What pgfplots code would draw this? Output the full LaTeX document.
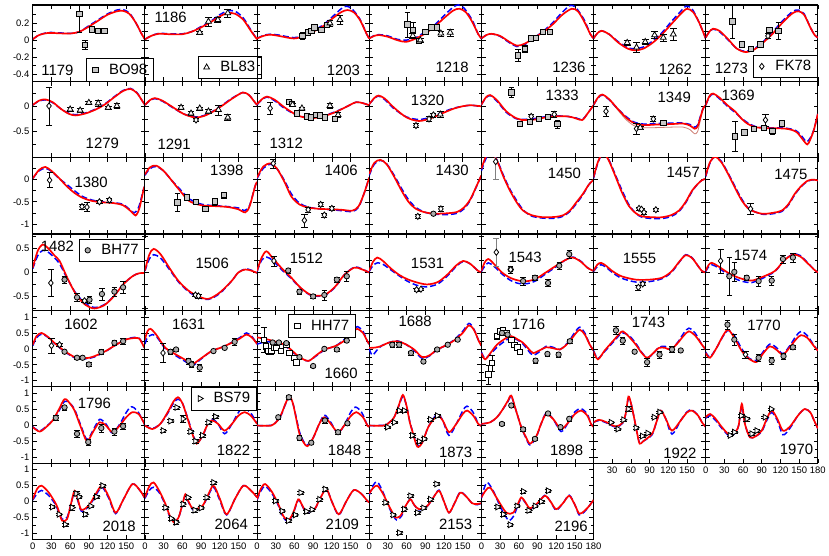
\documentclass[border=0pt]{standalone}
\usepackage{fontspec}
\setmainfont{Liberation Sans}
\usepackage{pgfplots}
\pgfplotsset{compat=1.18}
\usepgfplotslibrary{groupplots}

\pgfplotsset{
  redc/.style={draw=red, line width=1.7pt, smooth, no markers, forget plot},
  bluec/.style={draw=blue, line width=1.5pt, dash pattern=on 6pt off 3pt, smooth, no markers, forget plot},
  thinc/.style={draw={rgb,255:red,205;green,125;blue,115}, line width=0.8pt, smooth, no markers, forget plot},
  dat/.style={only marks, black, mark size=2.7pt,
    error bars/y dir=both, error bars/y explicit,
    error bars/error bar style={line width=0.6pt, black}},
  bo/.style={dat, mark=square*, mark options={fill=gray!45, draw=black, line width=0.8pt}},
  bl/.style={dat, mark size=3.4pt, mark=triangle*, mark options={fill=white, draw=black, line width=0.8pt}},
  fk/.style={dat, mark size=3.1pt, mark=diamond*, mark options={fill=white, draw=black, line width=0.8pt}},
  bh/.style={dat, mark=*, mark options={fill=gray!65, draw=black, line width=0.8pt}},
  hh/.style={dat, mark=square*, mark options={fill=white, draw=black, line width=0.8pt}},
  bs/.style={dat, mark size=3.4pt, mark=triangle*, mark options={fill=white, draw=black, line width=0.8pt, rotate=-90}},
  rA/.style={ymin=-0.485, ymax=0.415, ytick={-0.4,-0.2,0,0.2}, minor ytick={-0.3,-0.1,0.1,0.3}},
  rB/.style={ymin=-1.01, ymax=0.49, ytick={-0.5,0}, minor ytick={-0.75,-0.25,0.25}},
  rC/.style={ymin=-1.23, ymax=0.5, ytick={-1,-0.5,0}, minor ytick={-0.75,-0.25,0.25}},
  rD/.style={ymin=-0.79, ymax=0.8, ytick={-0.5,0,0.5}, minor ytick={-0.75,-0.25,0.25,0.75}},
  rE/.style={ymin=-1.19, ymax=1.21, ytick={-1,-0.5,0,0.5,1}, minor ytick={-0.75,-0.25,0.25,0.75}},
  bot/.style={xticklabels={0,30,60,90,120,150}},
}
\tikzset{plab/.style={font=\fontsize{15}{15}\selectfont}}
\newcommand{\plab}[3]{\node[plab] at (rel axis cs:#1,#2) {#3};}

\begin{document}
\begin{tikzpicture}
\begin{groupplot}[
  group style={group size=7 by 7, horizontal sep=0pt, vertical sep=0pt},
  scale only axis, width=112.9pt, height=76.86pt,
  xmin=0, xmax=180, xtick={0,30,...,180},
  xticklabels={}, yticklabels={},
  axis line style={line width=1.1pt},
  tick style={line width=0.6pt, black},
  tick label style={font=\fontsize{9.5}{10}\selectfont},
  legend style={draw=black, fill=white, line width=0.8pt, font=\fontsize{15}{15}\selectfont, inner xsep=4pt, inner ysep=3.5pt},
  legend image code/.code={\draw[#1] plot coordinates {(0.15cm,0cm)}; \path (0cm,0cm) (0.55cm,0cm);},
]
% ---------------- row 1 ----------------
\nextgroupplot[rA, yticklabels={-0.4,-0.2,0,0.2}, legend style={at={(0.478,0.30)}, anchor=north west}]
\addplot[bluec] coordinates {(0,0.01)(10,0.06)(25,0.09)(45,0.085)(62,0.08)(75,0.1)(90,0.17)(105,0.24)(120,0.31)(135,0.355)(145,0.36)(155,0.32)(165,0.21)(175,0.07)(180,0.01)};
\addplot[redc] coordinates {(0,0.01)(10,0.06)(25,0.085)(45,0.08)(62,0.08)(75,0.1)(90,0.16)(105,0.23)(120,0.3)(135,0.34)(145,0.345)(155,0.31)(165,0.21)(175,0.07)(180,0.01)};
\addplot[bo] coordinates {(74.7,0.31)+-(0,0.22) (84,-0.054)+-(0,0.05) (95,0.127)+-(0,0.03) (105,0.108)+-(0,0.02) (115,0.108)+-(0,0.02)};
\addlegendentry{BO98}
\plab{0.22}{0.14}{1179}
\nextgroupplot[rA, legend style={at={(0.47,0.337)}, anchor=north west}]
\addplot[bluec] coordinates {(0,0.01)(10,0.05)(22,0.08)(40,0.075)(60,0.075)(75,0.1)(90,0.16)(105,0.22)(120,0.3)(133,0.345)(145,0.34)(158,0.26)(170,0.12)(180,0.01)};
\addplot[redc] coordinates {(0,0.01)(10,0.05)(22,0.075)(40,0.07)(60,0.07)(75,0.1)(90,0.15)(105,0.21)(120,0.28)(133,0.32)(145,0.31)(158,0.24)(170,0.11)(180,0.01)};
\addplot[bl] coordinates {(88,0.09)+-(0,0.02) (102,0.22)+-(0,0.05) (117,0.24)+-(0,0.03) (133,0.32)+-(0,0.05)};
\addlegendentry{BL83}
\plab{0.23}{0.84}{1186}
\nextgroupplot[rA]
\addplot[bluec] coordinates {(0,0.02)(10,0.055)(21,0.07)(35,0.06)(59,0.03)(75,0.06)(90,0.11)(106,0.18)(120,0.27)(135,0.37)(143,0.4)(152,0.37)(165,0.25)(176,0.07)(180,0.02)};
\addplot[redc] coordinates {(0,0.02)(10,0.05)(21,0.065)(35,0.05)(59,0.02)(75,0.05)(90,0.1)(106,0.165)(120,0.25)(135,0.33)(145,0.355)(155,0.33)(165,0.24)(176,0.07)(180,0.02)};
\addplot[bo] coordinates {(73,0.05)+-(0,0.04) (82,0.09)+-(0,0.03) (87,0.11)+-(0,0.02) (92,0.15)+-(0,0.02) (103,0.12)+-(0,0.02) (112,0.18)+-(0,0.03)};
\addplot[bl] coordinates {(117,0.2)+-(0,0.03) (133,0.24)+-(0,0.05)};
\plab{0.77}{0.14}{1203}
\nextgroupplot[rA]
\addplot[bluec] coordinates {(0,0.02)(8,0.055)(16,0.065)(30,0.05)(45,0.01)(59,0.0)(75,0.03)(90,0.1)(105,0.18)(120,0.29)(135,0.39)(143,0.415)(152,0.38)(165,0.24)(175,0.07)(180,0.02)};
\addplot[redc] coordinates {(0,0.02)(8,0.05)(16,0.06)(30,0.04)(45,0.0)(59,-0.02)(75,0.02)(90,0.08)(105,0.16)(120,0.26)(135,0.35)(145,0.37)(155,0.33)(165,0.22)(175,0.07)(180,0.02)};
\addplot[bo] coordinates {(61,0.185)+-(0,0.15) (70,0.12)+-(0,0.09) (80,-0.01)+-(0,0.02) (90,0.1)+-(0,0.02) (100,0.15)+-(0,0.02) (109,0.15)+-(0,0.02)};
\addplot[bl] coordinates {(70,0.05)+-(0,0.03) (82,0.0)+-(0,0.02) (115,0.08)+-(0,0.03) (130,0.09)+-(0,0.04)};
\plab{0.74}{0.18}{1218}
\nextgroupplot[rA]
\addplot[bluec] coordinates {(0,0.02)(8,0.06)(16,0.075)(30,0.045)(45,-0.03)(57,-0.075)(70,-0.05)(85,0.03)(100,0.11)(115,0.21)(130,0.33)(143,0.41)(152,0.38)(165,0.24)(175,0.07)(180,0.02)};
\addplot[redc] coordinates {(0,0.02)(8,0.06)(16,0.075)(30,0.05)(45,-0.02)(57,-0.065)(70,-0.04)(85,0.03)(100,0.1)(115,0.19)(130,0.3)(145,0.37)(155,0.34)(165,0.22)(175,0.07)(180,0.02)};
\addplot[bo] coordinates {(59,-0.18)+-(0,0.07) (70,-0.1)+-(0,0.04) (79,0.02)+-(0,0.02) (88,0.03)+-(0,0.02) (99,0.1)+-(0,0.02) (110,0.1)+-(0,0.02)};
\plab{0.78}{0.18}{1236}
\nextgroupplot[rA]
\addplot[bluec] coordinates {(0,0.02)(6,0.08)(13,0.11)(25,0.07)(40,-0.02)(55,-0.09)(67,-0.1)(80,-0.08)(95,-0.01)(110,0.09)(125,0.22)(140,0.34)(148,0.4)(158,0.37)(170,0.2)(180,0.02)};
\addplot[redc] coordinates {(0,0.02)(6,0.08)(13,0.11)(25,0.07)(40,-0.03)(55,-0.1)(67,-0.12)(80,-0.1)(95,-0.03)(110,0.07)(125,0.19)(140,0.31)(150,0.37)(160,0.33)(170,0.2)(180,0.02)};
\addplot[bl] coordinates {(54,-0.03)+-(0,0.03) (69,-0.085)+-(0,0.06) (83,-0.02)+-(0,0.03) (98,0.06)+-(0,0.04) (112,0.03)+-(0,0.04) (128,0.07)+-(0,0.07)};
\plab{0.73}{0.155}{1262}
\nextgroupplot[rA, legend style={at={(0.42,0.35)}, anchor=north west}]
\addplot[bluec] coordinates {(0,0.03)(6,0.1)(12,0.13)(22,0.1)(35,0.01)(50,-0.1)(64,-0.13)(78,-0.1)(92,-0.02)(108,0.1)(125,0.24)(140,0.34)(149,0.355)(158,0.31)(168,0.15)(175,0.06)(180,0.03)};
\addplot[redc] coordinates {(0,0.03)(6,0.1)(12,0.135)(22,0.11)(35,0.02)(50,-0.1)(64,-0.14)(78,-0.11)(92,-0.03)(108,0.08)(125,0.22)(140,0.32)(149,0.34)(158,0.3)(168,0.15)(175,0.06)(180,0.03)};
\addplot[bo, forget plot] coordinates {(43,0.22)+-(0,0.2) (58,-0.05)+-(0,0.03) (73,-0.1)+-(0,0.02) (88,-0.05)+-(0,0.02) (102,0.12)+-(0,0.03) (117,0.11)+-(0,0.1)};
\addplot[fk] coordinates {(100,0.05)+-(0,0.03)};
\addlegendentry{FK78}
\plab{0.23}{0.17}{1273}
% ---------------- row 2 ----------------
\nextgroupplot[rB, yticklabels={-0.5,0}]
\addplot[bluec] coordinates {(0,0.025)(10,0.1)(20,0.125)(32,0.07)(45,-0.05)(58,-0.14)(69,-0.165)(85,-0.13)(100,-0.06)(115,0.04)(130,0.18)(145,0.31)(157,0.35)(167,0.27)(175,0.12)(180,0.025)};
\addplot[redc] coordinates {(0,0.025)(10,0.11)(20,0.135)(32,0.08)(45,-0.05)(58,-0.15)(69,-0.18)(85,-0.14)(100,-0.07)(115,0.03)(130,0.17)(145,0.3)(157,0.34)(167,0.26)(175,0.12)(180,0.025)};
\addplot[fk] coordinates {(26,0.006)+-(0,0.37)};
\addplot[bl] coordinates {(60,-0.06)+-(0,0.04) (76,-0.08)+-(0,0.04) (90,0.07)+-(0,0.03) (105,0.06)+-(0,0.06) (121,-0.025)+-(0,0.03) (135,0.006)+-(0,0.05)};
\plab{0.62}{0.19}{1279}
\nextgroupplot[rB]
\addplot[bluec] coordinates {(0,0.025)(8,0.11)(16,0.15)(28,0.1)(45,-0.03)(62,-0.15)(80,-0.21)(95,-0.18)(110,-0.09)(125,0.03)(140,0.16)(157,0.27)(167,0.22)(175,0.1)(180,0.025)};
\addplot[redc] coordinates {(0,0.025)(8,0.12)(16,0.16)(28,0.11)(45,-0.02)(62,-0.15)(80,-0.22)(95,-0.19)(110,-0.1)(125,0.02)(140,0.15)(157,0.27)(167,0.22)(175,0.1)(180,0.025)};
\addplot[bl] coordinates {(58,-0.025)+-(0,0.04) (74,-0.14)+-(0,0.04) (88,-0.04)+-(0,0.03) (102,-0.1)+-(0,0.04) (118,-0.07)+-(0,0.1) (133,-0.22)+-(0,0.06)};
\addplot[fk] coordinates {(82,-0.27)+-(0,0.03)};
\plab{0.26}{0.18}{1291}
\nextgroupplot[rB]
\addplot[bluec] coordinates {(0,0.03)(8,0.13)(16,0.18)(28,0.11)(45,-0.05)(65,-0.18)(85,-0.22)(105,-0.19)(125,-0.11)(145,0.0)(159,0.08)(170,0.06)(180,0.02)};
\addplot[redc] coordinates {(0,0.04)(8,0.14)(16,0.19)(28,0.13)(45,-0.03)(65,-0.18)(85,-0.235)(105,-0.2)(125,-0.12)(145,0.0)(159,0.08)(170,0.06)(180,0.02)};
\addplot[fk] coordinates {(21,-0.04)+-(0,0.12)};
\addplot[bo] coordinates {(51,0.09)+-(0,0.05) (56,0.05)+-(0,0.03) (64,-0.14)+-(0,0.03) (80,-0.2)+-(0,0.03) (86,-0.22)+-(0,0.03) (95,-0.17)+-(0,0.03) (101,-0.18)+-(0,0.03) (109,-0.22)+-(0,0.03) (125,-0.25)+-(0,0.05)};
\addplot[bl] coordinates {(57,0.03)+-(0,0.03) (72,-0.04)+-(0,0.03) (117,0.01)+-(0,0.05) (130,-0.17)+-(0,0.05)};
\plab{0.26}{0.19}{1312}
\nextgroupplot[rB]
\addplot[bluec] coordinates {(0,0.04)(8,0.15)(15,0.2)(25,0.13)(40,-0.05)(60,-0.21)(80,-0.26)(100,-0.21)(117,-0.12)(135,-0.04)(150,0.0)(162,0.02)(172,0.01)(180,0.0)};
\addplot[redc] coordinates {(0,0.04)(8,0.16)(15,0.21)(25,0.15)(40,-0.03)(60,-0.22)(80,-0.29)(100,-0.23)(117,-0.14)(135,-0.05)(150,0.0)(162,0.02)(172,0.01)(180,0.0)};
\addplot[fk] coordinates {(75,-0.38)+-(0,0.04) (96,-0.25)+-(0,0.05) (103,-0.17)+-(0,0.04)};
\addplot[bl] coordinates {(114,-0.16)+-(0,0.06)};
\plab{0.52}{0.75}{1320}
\nextgroupplot[rB]
\addplot[bluec] coordinates {(0,0.03)(7,0.16)(14,0.21)(25,0.1)(40,-0.12)(55,-0.24)(65,-0.26)(86,-0.24)(112,-0.19)(139,-0.2)(152,-0.23)(162,-0.26)(170,-0.15)(180,0.02)};
\addplot[redc] coordinates {(0,0.03)(7,0.17)(14,0.22)(25,0.12)(40,-0.1)(55,-0.23)(65,-0.27)(86,-0.26)(112,-0.2)(139,-0.2)(152,-0.24)(162,-0.27)(170,-0.15)(180,0.02)};
\addplot[bo] coordinates {(48,0.27)+-(0,0.1) (62,-0.35)+-(0,0.02) (78,-0.31)+-(0,0.02) (92,-0.25)+-(0,0.02) (107,-0.21)+-(0,0.02) (122,-0.35)+-(0,0.08)};
\addplot[fk] coordinates {(80,-0.2)+-(0,0.05) (117,-0.16)+-(0,0.06)};
\plab{0.72}{0.82}{1333}
\nextgroupplot[rB]
\addplot[thinc] coordinates {(0,0.025)(7,0.17)(14,0.23)(25,0.13)(38,-0.06)(52,-0.26)(65,-0.38)(80,-0.42)(100,-0.42)(125,-0.41)(144,-0.41)(155,-0.46)(162,-0.54)(167,-0.5)(172,-0.25)(176,-0.06)(180,0.02)};
\addplot[bluec] coordinates {(0,0.025)(7,0.16)(14,0.22)(25,0.13)(38,-0.04)(52,-0.2)(65,-0.31)(80,-0.35)(100,-0.34)(125,-0.33)(144,-0.33)(155,-0.36)(162,-0.41)(167,-0.37)(172,-0.18)(176,-0.04)(180,0.02)};
\addplot[redc] coordinates {(0,0.025)(7,0.17)(14,0.23)(25,0.14)(38,-0.04)(52,-0.22)(65,-0.33)(80,-0.37)(100,-0.36)(125,-0.35)(144,-0.34)(155,-0.38)(162,-0.44)(167,-0.4)(172,-0.2)(176,-0.04)(180,0.02)};
\addplot[fk] coordinates {(20,-0.1)+-(0,0.1) (69,-0.44)+-(0,0.1) (96,-0.25)+-(0,0.05)};
\addplot[bl] coordinates {(75,-0.42)+-(0,0.03)};
\addplot[bo] coordinates {(112,-0.33)+-(0,0.03)};
\plab{0.72}{0.79}{1349}
\nextgroupplot[rB]
\addplot[bluec] coordinates {(0,0.02)(6,0.18)(12,0.24)(22,0.15)(35,0.0)(47,-0.12)(58,-0.24)(68,-0.33)(80,-0.4)(95,-0.42)(128,-0.43)(145,-0.48)(155,-0.6)(162,-0.7)(168,-0.62)(174,-0.45)(180,-0.15)};
\addplot[redc] coordinates {(0,0.02)(6,0.2)(12,0.25)(22,0.17)(35,0.02)(47,-0.1)(58,-0.25)(68,-0.35)(80,-0.41)(95,-0.43)(128,-0.44)(145,-0.5)(155,-0.64)(163,-0.75)(168,-0.65)(174,-0.45)(180,-0.15)};
\addplot[bo] coordinates {(47,-0.59)+-(0,0.3) (62,-0.51)+-(0,0.06) (77,-0.44)+-(0,0.03) (93,-0.43)+-(0,0.03) (107,-0.49)+-(0,0.05) (122,-0.34)+-(0,0.05)};
\addplot[fk] coordinates {(96,-0.27)+-(0,0.12)};
\plab{0.29}{0.82}{1369}
% ---------------- row 3 ----------------
\nextgroupplot[rC, yticklabels={-1,-0.5,0}]
\addplot[bluec] coordinates {(0,0.03)(10,0.2)(20,0.26)(30,0.19)(42,0.03)(54,-0.1)(67,-0.25)(80,-0.38)(95,-0.46)(110,-0.5)(130,-0.52)(145,-0.56)(156,-0.68)(163,-0.75)(170,-0.62)(178,-0.21)(180,-0.15)};
\addplot[redc] coordinates {(0,0.03)(10,0.22)(20,0.29)(30,0.2)(42,0.04)(54,-0.14)(67,-0.3)(80,-0.41)(95,-0.48)(110,-0.51)(130,-0.53)(145,-0.58)(158,-0.72)(165,-0.81)(171,-0.65)(178,-0.21)(180,-0.15)};
\addplot[fk] coordinates {(27,-0.01)+-(0,0.17) (79,-0.61)+-(0,0.05) (87,-0.62)+-(0,0.1) (107,-0.5)+-(0,0.04) (123,-0.46)+-(0,0.05)};
\plab{0.52}{0.68}{1380}
\nextgroupplot[rC]
\addplot[bluec] coordinates {(0,0.1)(8,0.25)(18,0.3)(30,0.2)(42,0.0)(54,-0.18)(70,-0.42)(85,-0.53)(97,-0.57)(115,-0.59)(134,-0.61)(150,-0.64)(160,-0.7)(168,-0.58)(177,-0.14)(180,-0.05)};
\addplot[redc] coordinates {(0,0.12)(8,0.28)(18,0.32)(30,0.2)(42,0.0)(54,-0.21)(70,-0.47)(85,-0.56)(97,-0.59)(115,-0.6)(134,-0.62)(150,-0.67)(161,-0.74)(168,-0.6)(177,-0.14)(180,-0.05)};
\addplot[bo] coordinates {(52,-0.51)+-(0,0.2) (67,-0.4)+-(0,0.06) (82,-0.5)+-(0,0.04) (97,-0.66)+-(0,0.04) (112,-0.49)+-(0,0.08) (127,-0.35)+-(0,0.07)};
\plab{0.73}{0.84}{1398}
\nextgroupplot[rC]
\addplot[bluec] coordinates {(0,0.03)(10,0.26)(22,0.35)(32,0.25)(44,-0.02)(55,-0.32)(68,-0.53)(82,-0.62)(100,-0.66)(120,-0.68)(135,-0.7)(153,-0.72)(163,-0.62)(172,-0.3)(180,0.05)};
\addplot[redc] coordinates {(0,0.05)(10,0.3)(22,0.37)(32,0.25)(44,-0.05)(55,-0.38)(68,-0.56)(82,-0.63)(100,-0.66)(120,-0.67)(135,-0.68)(153,-0.7)(163,-0.6)(172,-0.3)(180,0.05)};
\addplot[fk] coordinates {(26,0.37)+-(0,0.1) (76,-0.92)+-(0,0.15) (82,-0.68)+-(0,0.05) (102,-0.56)+-(0,0.04) (108,-0.8)+-(0,0.04) (120,-0.65)+-(0,0.04)};
\plab{0.75}{0.83}{1406}
\nextgroupplot[rC]
\addplot[bluec] coordinates {(0,0.1)(8,0.35)(18,0.44)(28,0.36)(40,0.1)(52,-0.2)(63,-0.45)(75,-0.63)(90,-0.74)(105,-0.78)(125,-0.79)(141,-0.76)(152,-0.66)(162,-0.47)(172,-0.16)(180,0.1)};
\addplot[redc] coordinates {(0,0.13)(8,0.38)(18,0.45)(28,0.35)(40,0.07)(52,-0.25)(63,-0.5)(75,-0.66)(90,-0.74)(105,-0.77)(125,-0.76)(141,-0.73)(152,-0.63)(162,-0.45)(172,-0.15)(180,0.1)};
\addplot[fk] coordinates {(78,-0.83)+-(0,0.04) (115,-0.66)+-(0,0.06)};
\addplot[bh] coordinates {(103,-0.77)+-(0,0.03)};
\plab{0.74}{0.83}{1430}
\nextgroupplot[rC]
\addplot[bluec] coordinates {(0,0.2)(8,0.5)(16,0.63)(26,0.42)(36,0.08)(46,-0.22)(57,-0.48)(67,-0.68)(80,-0.82)(99,-0.87)(120,-0.87)(132,-0.82)(142,-0.72)(152,-0.55)(163,-0.34)(172,-0.12)(180,0.0)};
\addplot[redc] coordinates {(0,0.25)(8,0.55)(16,0.65)(26,0.4)(36,0.05)(46,-0.25)(57,-0.52)(67,-0.7)(80,-0.8)(99,-0.85)(120,-0.84)(132,-0.8)(142,-0.7)(152,-0.52)(163,-0.32)(172,-0.12)(180,0.0)};
\addplot[fk, error bars/error bar style={gray}] coordinates {(23,0.41)+-(0,0.4)};
\plab{0.74}{0.80}{1450}
\nextgroupplot[rC]
\addplot[bluec] coordinates {(0,0.03)(7,0.38)(15,0.6)(24,0.47)(36,0.08)(46,-0.25)(57,-0.57)(68,-0.76)(78,-0.85)(95,-0.88)(110,-0.88)(125,-0.83)(137,-0.72)(148,-0.52)(158,-0.27)(167,-0.1)(174,-0.01)(180,0.02)};
\addplot[redc] coordinates {(0,0.05)(7,0.4)(15,0.6)(24,0.45)(36,0.05)(46,-0.3)(57,-0.6)(68,-0.76)(78,-0.83)(95,-0.85)(110,-0.85)(125,-0.8)(137,-0.7)(148,-0.5)(158,-0.25)(167,-0.1)(174,-0.01)(180,0.02)};
\addplot[fk] coordinates {(73,-0.65)+-(0,0.03) (77,-0.67)+-(0,0.03) (81,-0.74)+-(0,0.03) (100,-0.68)+-(0,0.03)};
\plab{0.80}{0.81}{1457}
\nextgroupplot[rC]
\addplot[bluec] coordinates {(0,0.07)(7,0.38)(15,0.52)(25,0.42)(36,0.15)(47,-0.15)(58,-0.44)(70,-0.66)(90,-0.78)(108,-0.77)(122,-0.72)(133,-0.57)(143,-0.34)(153,-0.16)(164,-0.03)(174,0.0)(180,-0.02)};
\addplot[redc] coordinates {(0,0.09)(7,0.4)(15,0.52)(25,0.4)(36,0.13)(47,-0.18)(58,-0.47)(70,-0.67)(90,-0.77)(108,-0.75)(122,-0.7)(133,-0.55)(143,-0.32)(153,-0.15)(164,-0.02)(174,0.0)(180,-0.02)};
\addplot[fk] coordinates {(72,-0.66)+-(0,0.13)};
\plab{0.76}{0.78}{1475}
% ---------------- row 4 ----------------
\nextgroupplot[rD, yticklabels={-0.5,0,0.5}, legend style={at={(0.41,0.94)}, anchor=north west}]
\addplot[bluec] coordinates {(0,0.08)(8,0.35)(16,0.46)(25,0.42)(35,0.3)(43,0.18)(55,-0.12)(70,-0.45)(85,-0.65)(99,-0.73)(115,-0.67)(130,-0.49)(145,-0.25)(160,-0.08)(170,-0.02)(180,-0.01)};
\addplot[redc] coordinates {(0,0.1)(8,0.45)(16,0.58)(25,0.5)(35,0.35)(43,0.24)(55,-0.1)(70,-0.47)(85,-0.68)(99,-0.75)(115,-0.68)(130,-0.5)(145,-0.25)(160,-0.08)(170,-0.02)(180,-0.01)};
\addplot[fk, forget plot] coordinates {(29,-0.22)+-(0,0.28) (83,-0.59)+-(0,0.04)};
\addplot[bh] coordinates {(51,-0.15)+-(0,0.08) (71,-0.52)+-(0,0.08) (91,-0.57)+-(0,0.08) (111,-0.45)+-(0,0.12) (131,-0.4)+-(0,0.1) (145,-0.31)+-(0,0.12)};
\addlegendentry{BH77}
\plab{0.22}{0.84}{1482}
\nextgroupplot[rD]
\addplot[bluec] coordinates {(0,0.03)(7,0.28)(14,0.37)(25,0.3)(40,0.05)(54,-0.2)(70,-0.4)(86,-0.52)(102,-0.56)(120,-0.44)(139,-0.18)(150,-0.0)(161,0.07)(170,0.05)(180,-0.01)};
\addplot[redc] coordinates {(0,0.04)(7,0.37)(14,0.49)(25,0.38)(40,0.08)(54,-0.18)(70,-0.38)(86,-0.5)(102,-0.55)(120,-0.42)(139,-0.18)(150,-0.0)(161,0.06)(170,0.04)(180,-0.01)};
\addplot[fk] coordinates {(81,-0.47)+-(0,0.03) (86,-0.49)+-(0,0.04)};
\plab{0.60}{0.62}{1506}
\nextgroupplot[rD]
\addplot[bluec] coordinates {(0,0.02)(7,0.25)(15,0.32)(25,0.25)(40,0.05)(55,-0.13)(70,-0.33)(87,-0.48)(108,-0.48)(125,-0.31)(140,-0.05)(156,0.11)(167,0.08)(180,0.0)};
\addplot[redc] coordinates {(0,0.03)(7,0.3)(15,0.44)(25,0.3)(40,0.08)(55,-0.11)(70,-0.32)(87,-0.47)(108,-0.47)(125,-0.3)(140,-0.05)(156,0.1)(167,0.07)(180,0.0)};
\addplot[fk] coordinates {(27,0.24)+-(0,0.1)};
\addplot[bh] coordinates {(50,0.04)+-(0,0.05) (68,-0.4)+-(0,0.05) (90,-0.5)+-(0,0.04) (108,-0.47)+-(0,0.1) (128,-0.15)+-(0,0.06) (144,-0.08)+-(0,0.1)};
\plab{0.44}{0.68}{1512}
\nextgroupplot[rD]
\addplot[bluec] coordinates {(0,0.02)(6,0.14)(13,0.2)(22,0.17)(35,0.05)(48,-0.07)(61,-0.18)(77,-0.27)(93,-0.3)(110,-0.24)(125,-0.08)(140,0.13)(151,0.23)(162,0.18)(175,0.03)(180,0.01)};
\addplot[redc] coordinates {(0,0.03)(6,0.22)(13,0.31)(22,0.24)(35,0.08)(48,-0.05)(61,-0.14)(77,-0.21)(93,-0.25)(110,-0.2)(125,-0.05)(140,0.15)(151,0.24)(162,0.18)(175,0.03)(180,0.01)};
\addplot[fk] coordinates {(76,-0.36)+-(0,0.03) (83,-0.35)+-(0,0.03)};
\plab{0.52}{0.62}{1531}
\nextgroupplot[rD]
\addplot[bluec] coordinates {(0,0.02)(5,0.12)(11,0.2)(20,0.13)(33,-0.03)(46,-0.16)(60,-0.23)(75,-0.23)(88,-0.17)(100,-0.06)(120,0.12)(135,0.26)(147,0.32)(160,0.23)(170,0.1)(180,0.03)};
\addplot[redc] coordinates {(0,0.03)(5,0.2)(11,0.28)(20,0.18)(33,0.0)(46,-0.11)(60,-0.17)(75,-0.18)(88,-0.13)(100,-0.03)(120,0.14)(135,0.26)(147,0.31)(160,0.22)(170,0.1)(180,0.03)};
\addplot[fk, error bars/error bar style={gray}] coordinates {(24,0.42)+-(0,0.3)};
\addplot[bh] coordinates {(47,0.06)+-(0,0.08) (67,-0.18)+-(0,0.08) (86,-0.11)+-(0,0.06) (107,-0.22)+-(0,0.07) (125,0.14)+-(0,0.08) (141,0.38)+-(0,0.09)};
\addplot[fk] coordinates {(47,0.06)+-(0,0.0)};
\plab{0.39}{0.69}{1543}
\nextgroupplot[rD]
\addplot[bluec] coordinates {(0,0.02)(6,0.12)(12,0.16)(20,0.11)(30,0.0)(45,-0.12)(68,-0.2)(90,-0.19)(110,-0.13)(125,0.0)(138,0.22)(148,0.37)(158,0.31)(168,0.13)(174,0.03)(180,0.0)};
\addplot[redc] coordinates {(0,0.03)(6,0.16)(12,0.2)(20,0.14)(30,0.03)(45,-0.08)(68,-0.15)(90,-0.15)(110,-0.11)(125,0.02)(138,0.23)(148,0.36)(158,0.3)(168,0.13)(174,0.03)(180,0.0)};
\addplot[fk] coordinates {(72,-0.31)+-(0,0.05) (79,-0.24)+-(0,0.03)};
\plab{0.41}{0.68}{1555}
\nextgroupplot[rD]
\addplot[bluec] coordinates {(0,0.02)(5,0.12)(10,0.16)(20,0.1)(35,-0.04)(47,-0.13)(60,-0.19)(74,-0.21)(90,-0.13)(111,0.02)(126,0.25)(140,0.38)(152,0.35)(163,0.21)(174,0.06)(180,0.0)};
\addplot[redc] coordinates {(0,0.03)(5,0.16)(10,0.2)(20,0.13)(35,0.0)(47,-0.08)(60,-0.14)(74,-0.17)(90,-0.1)(111,0.03)(126,0.25)(140,0.37)(152,0.33)(163,0.2)(174,0.06)(180,0.0)};
\addplot[fk] coordinates {(24,0.24)+-(0,0.25)};
\addplot[bh] coordinates {(38,-0.08)+-(0,0.4) (46,0.01)+-(0,0.2) (66,-0.11)+-(0,0.06) (85,-0.18)+-(0,0.1) (106,-0.17)+-(0,0.1) (124,0.28)+-(0,0.08) (140,0.31)+-(0,0.1)};
\plab{0.40}{0.72}{1574}
% ---------------- row 5 ----------------
\nextgroupplot[rE, yticklabels={-1,-0.5,0,0.5,1}]
\addplot[bluec] coordinates {(0,0.1)(6,0.35)(14,0.46)(24,0.37)(38,0.12)(52,-0.1)(70,-0.3)(91,-0.3)(105,-0.2)(117,-0.08)(133,0.12)(149,0.3)(163,0.36)(171,0.33)(178,0.08)(180,0.02)};
\addplot[redc] coordinates {(0,0.13)(6,0.4)(14,0.5)(24,0.38)(38,0.13)(52,-0.08)(70,-0.28)(91,-0.28)(105,-0.18)(117,-0.07)(133,0.12)(149,0.29)(163,0.34)(171,0.32)(178,0.08)(180,0.02)};
\addplot[fk] coordinates {(30,0.1)+-(0,0.25) (43,0.13)+-(0,0.06)};
\addplot[bh] coordinates {(51,-0.09)+-(0,0.06) (71,-0.28)+-(0,0.05) (80,-0.28)+-(0,0.05) (90,-0.49)+-(0,0.06) (110,-0.1)+-(0,0.08) (131,0.19)+-(0,0.08) (145,0.24)+-(0,0.1)};
\plab{0.43}{0.81}{1602}
\nextgroupplot[rE]
\addplot[bluec] coordinates {(0,0.15)(4,0.35)(12,0.45)(20,0.35)(33,0.0)(50,-0.22)(65,-0.4)(77,-0.52)(90,-0.32)(107,-0.07)(125,0.06)(139,0.2)(152,0.35)(163,0.5)(172,0.38)(180,0.15)};
\addplot[redc] coordinates {(0,0.29)(4,0.55)(9,0.63)(18,0.45)(33,0.03)(50,-0.18)(65,-0.35)(75,-0.49)(90,-0.3)(107,-0.07)(125,0.06)(139,0.19)(152,0.32)(163,0.45)(172,0.35)(180,0.15)};
\addplot[fk] coordinates {(29,-0.13)+-(0,0.3)};
\addplot[bh] coordinates {(41,-0.09)+-(0,0.08) (50,-0.02)+-(0,0.05) (70,-0.38)+-(0,0.1) (75,-0.49)+-(0,0.1) (88,-0.59)+-(0,0.1) (110,-0.07)+-(0,0.05) (128,0.03)+-(0,0.05) (144,0.22)+-(0,0.1)};
\plab{0.39}{0.82}{1631}
\nextgroupplot[rE, legend style={at={(0.28,0.95)}, anchor=north west}]
\addplot[bluec] coordinates {(0,0.15)(9,0.2)(18,0.22)(30,0.2)(44,0.1)(56,-0.08)(66,-0.26)(82,-0.38)(95,-0.22)(108,-0.04)(120,0.05)(130,0.14)(145,0.38)(155,0.6)(161,0.7)(170,0.55)(177,0.24)(180,0.15)};
\addplot[redc] coordinates {(0,0.36)(9,0.33)(18,0.29)(30,0.22)(44,0.13)(56,-0.05)(66,-0.23)(82,-0.38)(95,-0.2)(108,-0.02)(120,0.05)(130,0.13)(145,0.33)(155,0.55)(161,0.63)(170,0.5)(177,0.24)(180,0.15)};
\addplot[hh] coordinates {(11,0.29)+-(0,0.4) (14,0.1)+-(0,0.1) (18,-0.07)+-(0,0.1) (23,-0.07)+-(0,0.1) (27,0.05)+-(0,0.08) (31,0.03)+-(0,0.08) (38,-0.07)+-(0,0.08) (47,0.13)+-(0,0.05) (52,-0.13)+-(0,0.05) (60,-0.28)+-(0,0.06) (63,-0.42)+-(0,0.1)};
\addlegendentry{HH77}
\addplot[bh, forget plot] coordinates {(25,0.2)+-(0,0.05) (35,0.2)+-(0,0.05) (47,0.18)+-(0,0.05) (68,-0.26)+-(0,0.05) (90,-0.54)+-(0,0.04) (108,0.0)+-(0,0.05) (128,-0.02)+-(0,0.05) (144,0.26)+-(0,0.06)};
\plab{0.75}{0.17}{1660}
\nextgroupplot[rE]
\addplot[bluec] coordinates {(0,0.0)(5,-0.2)(12,-0.05)(20,0.1)(32,0.2)(45,0.25)(58,0.15)(72,-0.05)(85,-0.3)(97,-0.22)(109,-0.03)(122,0.1)(136,0.28)(150,0.55)(160,0.8)(168,0.62)(176,0.24)(180,0.1)};
\addplot[redc] coordinates {(0,0.03)(9,0.04)(18,0.08)(32,0.2)(45,0.24)(58,0.15)(72,-0.02)(85,-0.26)(97,-0.2)(109,-0.02)(122,0.1)(136,0.26)(150,0.5)(160,0.74)(168,0.6)(176,0.24)(180,0.1)};
\addplot[bh] coordinates {(37,0.13)+-(0,0.08) (48,0.13)+-(0,0.08) (67,-0.13)+-(0,0.06) (87,-0.4)+-(0,0.06) (109,-0.02)+-(0,0.05) (126,0.13)+-(0,0.04) (142,0.29)+-(0,0.05)};
\plab{0.41}{0.85}{1688}
\nextgroupplot[rE]
\addplot[bluec] coordinates {(0,-0.1)(6,-0.3)(15,-0.15)(25,0.05)(38,0.25)(48,0.35)(58,0.28)(67,0.15)(75,-0.05)(83,-0.2)(94,-0.08)(104,0.08)(115,0.05)(126,-0.02)(135,0.12)(142,0.28)(150,0.52)(158,0.68)(166,0.5)(174,0.13)(180,-0.05)};
\addplot[redc] coordinates {(0,-0.13)(6,-0.33)(15,-0.12)(25,0.13)(38,0.32)(48,0.4)(58,0.3)(67,0.19)(75,0.02)(83,-0.13)(94,-0.04)(104,0.05)(115,0.02)(126,-0.02)(135,0.1)(142,0.24)(150,0.45)(158,0.6)(166,0.45)(174,0.13)(180,-0.05)};
\addplot[hh] coordinates {(11,-0.8)+-(0,0.3) (17,-0.44)+-(0,0.25) (25,0.4)+-(0,0.1) (30,0.55)+-(0,0.1) (35,0.6)+-(0,0.08) (40,0.5)+-(0,0.08) (48,0.29)+-(0,0.06) (53,0.13)+-(0,0.06) (58,0.05)+-(0,0.05) (62,-0.1)+-(0,0.05)};
\addplot[bh] coordinates {(33,0.5)+-(0,0.06) (42,0.45)+-(0,0.06) (87,-0.37)+-(0,0.08) (106,-0.16)+-(0,0.06) (124,-0.18)+-(0,0.07) (142,0.24)+-(0,0.05)};
\plab{0.42}{0.82}{1716}
\nextgroupplot[rE]
\addplot[bluec] coordinates {(0,-0.05)(7,-0.3)(18,-0.08)(31,0.2)(42,0.44)(47,0.5)(57,0.42)(68,0.17)(77,-0.1)(86,-0.28)(95,-0.17)(105,0.05)(115,0.08)(124,0.0)(135,0.2)(145,0.5)(153,0.65)(163,0.5)(174,0.13)(180,-0.02)};
\addplot[redc] coordinates {(0,-0.07)(7,-0.33)(18,-0.05)(31,0.24)(42,0.48)(47,0.55)(57,0.38)(68,0.13)(77,-0.12)(86,-0.28)(95,-0.15)(105,0.03)(115,0.03)(124,-0.02)(135,0.18)(145,0.42)(153,0.55)(163,0.42)(174,0.13)(180,-0.02)};
\addplot[bh] coordinates {(36,0.58)+-(0,0.12) (47,0.26)+-(0,0.1) (66,-0.09)+-(0,0.06) (86,-0.42)+-(0,0.12) (106,-0.18)+-(0,0.1) (126,-0.02)+-(0,0.1) (140,-0.05)+-(0,0.05)};
\plab{0.49}{0.84}{1743}
\nextgroupplot[rE]
\addplot[bluec] coordinates {(0,-0.1)(7,-0.25)(18,0.05)(28,0.4)(36,0.58)(46,0.42)(58,0.0)(70,-0.3)(82,-0.36)(92,-0.1)(103,0.15)(113,0.05)(124,-0.15)(135,0.1)(145,0.4)(153,0.55)(163,0.42)(174,0.1)(180,-0.05)};
\addplot[redc] coordinates {(0,-0.13)(7,-0.28)(18,0.05)(28,0.42)(36,0.6)(46,0.35)(58,-0.07)(70,-0.32)(82,-0.41)(92,-0.15)(103,0.08)(113,-0.02)(124,-0.18)(135,0.05)(145,0.3)(153,0.43)(163,0.35)(174,0.08)(180,-0.05)};
\addplot[bh] coordinates {(35,0.76)+-(0,0.15) (46,0.29)+-(0,0.18) (85,-0.28)+-(0,0.1) (106,-0.37)+-(0,0.12) (125,-0.23)+-(0,0.1) (140,0.05)+-(0,0.06)};
\addplot[fk] coordinates {(64,-0.18)+-(0,0.1)};
\plab{0.52}{0.81}{1770}
% ---------------- row 6 ----------------
\nextgroupplot[rE, yticklabels={-1,-0.5,0,0.5,1}]
\addplot[bluec] coordinates {(0,-0.05)(11,-0.18)(22,-0.03)(32,0.15)(42,0.45)(51,0.75)(59,0.7)(67,0.5)(77,0.0)(87,-0.45)(97,-0.15)(107,0.18)(117,0.05)(128,-0.25)(140,0.05)(150,0.4)(158,0.58)(168,0.45)(178,0.09)(180,0.0)};
\addplot[redc] coordinates {(0,-0.06)(11,-0.2)(22,-0.05)(32,0.15)(42,0.5)(51,0.82)(59,0.7)(67,0.46)(77,-0.05)(87,-0.5)(97,-0.2)(107,0.09)(117,0.0)(128,-0.22)(140,0.0)(150,0.25)(160,0.41)(170,0.35)(178,0.09)(180,0.0)};
\addplot[bh] coordinates {(37,0.23)+-(0,0.08) (51,0.56)+-(0,0.08) (71,-0.27)+-(0,0.12) (89,-0.53)+-(0,0.1) (110,-0.09)+-(0,0.12) (131,-0.2)+-(0,0.1) (145,-0.03)+-(0,0.08)};
\plab{0.55}{0.78}{1796}
\nextgroupplot[rE, legend style={at={(0.41,1.0)}, anchor=north west}]
\addplot[bluec] coordinates {(0,-0.01)(12,-0.1)(25,0.05)(38,0.42)(46,0.7)(53,0.82)(60,0.7)(67,0.32)(75,-0.15)(83,-0.55)(93,-0.32)(100,0.0)(107,0.2)(117,0.05)(128,-0.27)(140,0.05)(150,0.4)(158,0.55)(170,0.38)(180,0.04)};
\addplot[redc] coordinates {(0,-0.01)(12,-0.12)(25,0.05)(38,0.46)(46,0.75)(53,0.88)(60,0.7)(67,0.3)(75,-0.2)(83,-0.58)(93,-0.3)(100,0.0)(107,0.15)(117,0.05)(128,-0.17)(140,0.05)(150,0.3)(160,0.41)(170,0.3)(180,0.04)};
\addplot[bs] coordinates {(29,-0.17)+-(0,0.05) (41,0.13)+-(0,0.05) (51,0.56)+-(0,0.05) (61,0.2)+-(0,0.12) (73,-0.2)+-(0,0.05) (81,-0.5)+-(0,0.05) (92,-0.32)+-(0,0.05) (102,0.09)+-(0,0.05) (113,0.27)+-(0,0.05)};
\addlegendentry{BS79}
\plab{0.79}{0.17}{1822}
\nextgroupplot[rE]
\addplot[bluec] coordinates {(0,-0.01)(23,0.0)(33,0.15)(39,0.33)(46,0.68)(52,0.85)(58,0.65)(68,-0.2)(75,-0.52)(81,-0.62)(90,-0.4)(100,0.05)(108,0.32)(118,0.1)(130,-0.25)(142,0.08)(150,0.4)(158,0.57)(168,0.4)(177,0.0)(180,-0.05)};
\addplot[redc] coordinates {(0,-0.01)(23,-0.01)(33,0.15)(39,0.35)(46,0.7)(52,0.9)(58,0.65)(68,-0.27)(75,-0.55)(81,-0.66)(90,-0.4)(100,0.05)(108,0.25)(118,0.05)(130,-0.22)(142,0.05)(150,0.28)(159,0.41)(170,0.25)(177,-0.01)(180,-0.05)};
\addplot[bh] coordinates {(34,0.25)+-(0,0.05) (51,0.88)+-(0,0.06) (68,-0.4)+-(0,0.08) (87,-0.55)+-(0,0.06) (109,0.15)+-(0,0.08) (130,-0.22)+-(0,0.05) (145,0.06)+-(0,0.06)};
\plab{0.78}{0.16}{1848}
\nextgroupplot[rE]
\addplot[bluec] coordinates {(0,-0.01)(24,0.0)(33,0.1)(40,0.25)(47,0.58)(54,0.9)(60,0.6)(65,0.12)(69,-0.15)(77,-0.64)(85,-0.55)(95,-0.05)(109,0.35)(118,0.15)(128,-0.32)(140,0.05)(150,0.45)(157,0.6)(167,0.4)(175,0.04)(180,-0.02)};
\addplot[redc] coordinates {(0,-0.01)(24,-0.01)(33,0.1)(40,0.25)(47,0.6)(54,0.95)(60,0.6)(65,0.1)(69,-0.17)(77,-0.67)(85,-0.55)(95,-0.05)(109,0.3)(118,0.15)(128,-0.22)(140,0.05)(150,0.35)(157,0.46)(167,0.3)(175,0.04)(180,-0.02)};
\addplot[bs] coordinates {(29,-0.06)+-(0,0.04) (40,0.09)+-(0,0.04) (48,0.46)+-(0,0.05) (56,0.46)+-(0,0.05) (69,-0.32)+-(0,0.06) (80,-0.51)+-(0,0.05) (88,-0.43)+-(0,0.05) (98,0.18)+-(0,0.05) (109,0.3)+-(0,0.05)};
\plab{0.77}{0.14}{1873}
\nextgroupplot[rE]
\addplot[bluec] coordinates {(0,0.04)(14,0.09)(25,0.25)(33,0.46)(42,0.72)(48,0.9)(55,0.5)(64,-0.06)(71,-0.38)(78,-0.62)(88,-0.38)(96,0.05)(104,0.38)(115,0.2)(128,-0.2)(140,0.1)(150,0.42)(160,0.52)(170,0.35)(176,0.04)(180,-0.05)};
\addplot[redc] coordinates {(0,0.04)(14,0.09)(25,0.25)(33,0.46)(42,0.75)(48,0.93)(55,0.5)(64,-0.06)(71,-0.35)(78,-0.58)(88,-0.35)(96,0.05)(104,0.35)(115,0.2)(128,-0.12)(140,0.1)(150,0.35)(160,0.46)(170,0.3)(176,0.04)(180,-0.05)};
\addplot[bh] coordinates {(33,0.04)+-(0,0.05) (48,0.62)+-(0,0.06) (67,-0.13)+-(0,0.06) (86,-0.43)+-(0,0.05) (107,0.37)+-(0,0.05) (127,-0.06)+-(0,0.06) (141,0.2)+-(0,0.06)};
\plab{0.76}{0.17}{1898}
\nextgroupplot[rE, xticklabels={,30,60,90,120,150}]
\addplot[bluec] coordinates {(0,0.09)(9,0.15)(20,0.08)(36,-0.06)(47,0.07)(52,0.38)(56,0.85)(60,0.7)(65,0.25)(70,-0.25)(74,-0.55)(80,-0.5)(94,-0.3)(101,0.1)(108,0.46)(116,0.2)(126,-0.28)(140,0.15)(150,0.42)(158,0.48)(168,0.3)(174,0.09)(180,-0.05)};
\addplot[redc] coordinates {(0,0.09)(9,0.17)(20,0.1)(36,-0.04)(47,0.09)(52,0.4)(56,0.9)(60,0.7)(65,0.25)(70,-0.25)(74,-0.58)(80,-0.5)(94,-0.27)(101,0.1)(108,0.46)(116,0.2)(126,-0.17)(140,0.15)(150,0.4)(158,0.46)(168,0.3)(174,0.09)(180,-0.05)};
\addplot[bs] coordinates {(28,0.09)+-(0,0.03) (39,-0.12)+-(0,0.03) (48,0.17)+-(0,0.03) (56,0.51)+-(0,0.08) (68,-0.08)+-(0,0.04) (78,-0.34)+-(0,0.04) (87,-0.25)+-(0,0.04) (97,0.25)+-(0,0.04) (106,0.41)+-(0,0.04)};
\plab{0.77}{0.13}{1922}
\nextgroupplot[rE, xticklabels={0,30,60,90,120,150,180}]
\addplot[bluec] coordinates {(0,0.22)(7,0.3)(16,0.15)(26,-0.1)(39,-0.35)(48,-0.22)(53,0.0)(58,0.6)(63,0.04)(71,-0.38)(80,-0.35)(90,-0.2)(98,0.15)(106,0.4)(115,0.15)(124,-0.3)(135,-0.1)(148,0.3)(159,0.51)(168,0.4)(174,0.15)(180,-0.1)};
\addplot[redc] coordinates {(0,0.25)(7,0.35)(16,0.2)(26,-0.06)(39,-0.32)(48,-0.2)(53,0.0)(58,0.67)(63,0.04)(71,-0.38)(80,-0.35)(90,-0.17)(98,0.2)(106,0.46)(115,0.2)(124,-0.17)(135,-0.05)(148,0.3)(159,0.51)(168,0.4)(174,0.15)(180,-0.1)};
\addplot[bs] coordinates {(39,-0.32)+-(0,0.04) (46,-0.22)+-(0,0.04) (57,0.3)+-(0,0.06) (66,0.2)+-(0,0.06) (74,-0.27)+-(0,0.04) (82,-0.17)+-(0,0.04) (95,0.25)+-(0,0.04) (105,0.51)+-(0,0.04)};
\plab{0.81}{0.18}{1970}
% ---------------- row 7 ----------------
\nextgroupplot[rE, bot, yticklabels={-1,-0.5,0,0.5,1}]
\addplot[bluec] coordinates {(0,0.05)(7,0.25)(14,0.35)(25,0.2)(35,-0.05)(40,-0.25)(47,-0.55)(55,-0.5)(61,-0.1)(67,0.3)(72,0.05)(78,-0.3)(90,-0.15)(100,0.15)(111,0.45)(122,0.1)(133,-0.38)(145,0.05)(160,0.55)(172,0.35)(180,0.1)};
\addplot[redc] coordinates {(0,0.07)(7,0.4)(14,0.5)(25,0.3)(35,0.0)(40,-0.2)(47,-0.6)(55,-0.55)(61,-0.1)(67,0.34)(72,0.1)(78,-0.26)(90,-0.12)(100,0.2)(111,0.5)(122,0.15)(133,-0.35)(145,0.05)(160,0.55)(172,0.35)(180,0.1)};
\addplot[bs] coordinates {(31,-0.17)+-(0,0.04) (42,-0.4)+-(0,0.04) (52,-0.72)+-(0,0.05) (63,-0.19)+-(0,0.08) (70,0.25)+-(0,0.06) (74,0.15)+-(0,0.05) (84,-0.4)+-(0,0.05) (93,-0.14)+-(0,0.04) (102,0.15)+-(0,0.05) (112,0.5)+-(0,0.06)};
\plab{0.77}{0.17}{2018}
\nextgroupplot[rE, bot]
\addplot[bluec] coordinates {(0,0.1)(7,0.35)(14,0.45)(24,0.25)(33,-0.12)(40,-0.48)(47,-0.63)(54,-0.5)(60,-0.12)(65,0.2)(70,-0.02)(78,-0.27)(92,-0.16)(100,0.12)(110,0.45)(120,0.05)(131,-0.42)(145,0.1)(158,0.5)(170,0.35)(180,0.13)};
\addplot[redc] coordinates {(0,0.13)(7,0.48)(14,0.6)(24,0.3)(33,-0.08)(40,-0.45)(47,-0.66)(54,-0.5)(60,-0.1)(65,0.23)(70,0.0)(78,-0.24)(92,-0.14)(100,0.15)(110,0.5)(120,0.1)(131,-0.4)(145,0.1)(158,0.5)(170,0.35)(180,0.13)};
\addplot[bs] coordinates {(33,-0.19)+-(0,0.04) (42,-0.53)+-(0,0.05) (50,-0.65)+-(0,0.05) (61,-0.08)+-(0,0.06) (69,0.13)+-(0,0.05) (80,-0.27)+-(0,0.05) (90,-0.2)+-(0,0.04) (99,0.13)+-(0,0.05) (110,0.6)+-(0,0.05)};
\plab{0.77}{0.20}{2064}
\nextgroupplot[rE, bot]
\addplot[bluec] coordinates {(0,0.05)(6,0.33)(13,0.48)(24,0.25)(34,-0.12)(42,-0.5)(50,-0.62)(58,-0.38)(66,0.05)(72,-0.12)(79,-0.33)(92,-0.25)(100,0.05)(111,0.4)(120,0.0)(131,-0.42)(143,0.0)(155,0.36)(167,0.25)(177,0.02)(180,-0.02)};
\addplot[redc] coordinates {(0,0.07)(6,0.4)(13,0.55)(24,0.3)(34,-0.08)(42,-0.45)(50,-0.6)(58,-0.35)(66,0.07)(72,-0.1)(79,-0.31)(92,-0.24)(100,0.05)(111,0.39)(120,0.0)(131,-0.4)(143,0.0)(155,0.36)(167,0.25)(177,0.02)(180,-0.02)};
\addplot[bs] coordinates {(29,0.02)+-(0,0.04) (40,-0.3)+-(0,0.05) (50,-0.6)+-(0,0.05) (61,-0.42)+-(0,0.05) (70,0.28)+-(0,0.05) (79,-0.31)+-(0,0.05) (88,-0.25)+-(0,0.04) (100,0.07)+-(0,0.05) (109,0.39)+-(0,0.05)};
\plab{0.76}{0.20}{2109}
\nextgroupplot[rE, bot]
\addplot[bluec] coordinates {(0,0.2)(6,0.5)(13,0.62)(22,0.3)(29,-0.05)(36,-0.35)(44,-0.58)(52,-0.45)(58,-0.15)(66,0.07)(72,-0.1)(80,-0.26)(93,-0.15)(102,0.1)(112,0.36)(120,0.0)(128,-0.35)(137,-0.05)(146,0.3)(156,0.15)(165,-0.05)(173,-0.1)(180,-0.05)};
\addplot[redc] coordinates {(0,0.25)(6,0.42)(13,0.5)(22,0.25)(29,-0.03)(36,-0.3)(42,-0.5)(50,-0.45)(58,-0.15)(66,0.07)(72,-0.1)(80,-0.24)(93,-0.14)(102,0.1)(112,0.34)(120,0.0)(128,-0.35)(137,-0.05)(146,0.28)(156,0.15)(165,-0.05)(173,-0.08)(180,-0.05)};
\addplot[bs] coordinates {(26,-0.03)+-(0,0.04) (38,-0.42)+-(0,0.05) (48,-0.98)+-(0,0.05) (56,-0.24)+-(0,0.05) (66,0.18)+-(0,0.05) (77,-0.35)+-(0,0.05) (87,-0.2)+-(0,0.04) (98,0.07)+-(0,0.05) (108,0.55)+-(0,0.05)};
\plab{0.77}{0.20}{2153}
\nextgroupplot[rE, xticklabels={0,30,60,90,120,150,180}]
\addplot[bluec] coordinates {(0,0.1)(5,0.45)(10,0.6)(20,0.3)(30,-0.15)(40,-0.5)(45,-0.6)(52,-0.45)(58,-0.15)(64,0.1)(70,-0.02)(78,-0.23)(90,-0.07)(102,0.2)(111,0.0)(120,-0.27)(131,-0.05)(141,0.2)(150,-0.1)(157,-0.42)(165,-0.33)(173,-0.14)(180,0.05)};
\addplot[redc] coordinates {(0,0.13)(7,0.35)(14,0.44)(25,0.1)(40,-0.35)(51,-0.35)(58,-0.1)(64,0.13)(70,0.0)(78,-0.21)(90,-0.05)(102,0.18)(111,0.0)(120,-0.24)(131,-0.05)(141,0.18)(150,-0.1)(157,-0.38)(165,-0.3)(173,-0.14)(180,0.05)};
\addplot[bs] coordinates {(26,-0.17)+-(0,0.05) (35,-0.4)+-(0,0.05) (46,-0.73)+-(0,0.05) (57,-0.14)+-(0,0.05) (67,0.32)+-(0,0.05) (76,-0.28)+-(0,0.05) (86,-0.14)+-(0,0.04) (96,0.0)+-(0,0.05) (107,0.34)+-(0,0.05)};
\plab{0.80}{0.17}{2196}
\end{groupplot}
\path (group c1r1.north west) ++(-33pt,5pt) rectangle ++(829pt,-559pt);
\end{tikzpicture}
\end{document}
